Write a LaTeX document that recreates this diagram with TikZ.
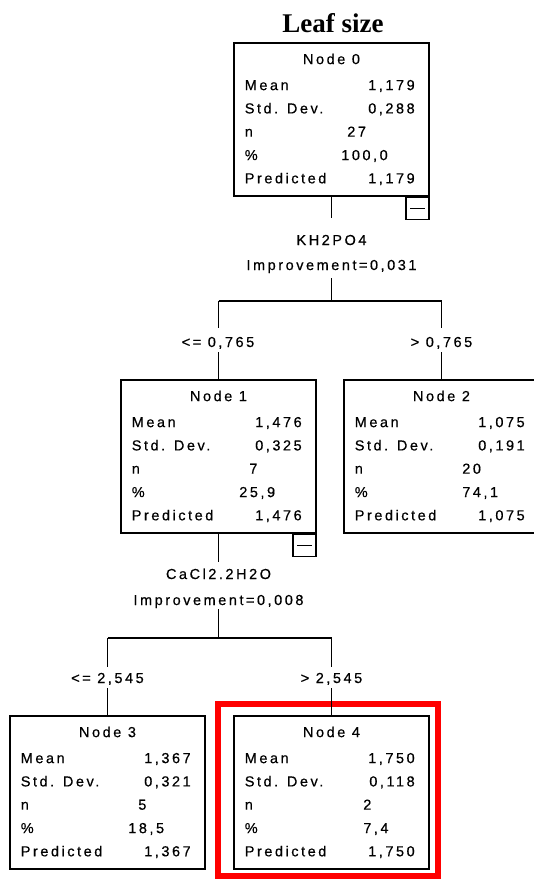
\documentclass[tikz,border=0pt]{standalone}
\usepackage{fontspec}
\setmainfont{Liberation Serif}
\newfontfamily\pixfont[LetterSpace=17.5,FakeBold=0.5]{Liberation Sans}
\usetikzlibrary{calc}
\newcommand\statbox[5]{%
  \node[lab,anchor=base] (#1t) at ($(#1.north)+(0,22)$) {#2};
  \node[lab,anchor=base west] (#1l1) at ($(#1.north west)+(11.5,48)$) {Mean};
  \node[lab,anchor=base west] (#1l2) at ($(#1.north west)+(11.5,71.3)$) {Std. Dev.};
  \node[lab,anchor=base west] (#1l3) at ($(#1.north west)+(11.5,94.6)$) {n};
  \node[lab,anchor=base west] (#1l4) at ($(#1.north west)+(11.5,118)$) {\%};
  \node[lab,anchor=base west] (#1l5) at ($(#1.north west)+(11.5,141.2)$) {Predicted};
  \node[lab,anchor=base east] (#1v1) at ($(#1.north east)+(-15,48)$) {#3};
  \node[lab,anchor=base east] (#1v2) at ($(#1.north east)+(-15,71.3)$) {#4};
  \node[lab,anchor=base east] (#1v5) at ($(#1.north east)+(-15,141.2)$) {#5};
}
\newcommand\statnp[5]{%
  \node[lab,anchor=base west] (#1v3) at ($(#1.north west)+(#2,94.6)$) {#3};
  \node[lab,anchor=base west] (#1v4) at ($(#1.north west)+(#4,118)$) {#5};
}
\begin{document}
\begin{tikzpicture}[x=1pt,y=-1pt,
  lab/.style={font=\pixfont\fontsize{14.5}{16}\selectfont, inner sep=0pt},
  box/.style={draw, line width=1.8pt, minimum width=195pt, minimum height=153pt, inner sep=0pt},
  minusbox/.style={draw, line width=1.5pt, minimum width=23pt, minimum height=22pt, inner sep=0pt, anchor=north east},
  conn/.style={line width=1.8pt},
  hl/.style={draw={rgb,255:red,255;green,0;blue,0}, line width=6pt, inner sep=0pt, minimum width=220pt, minimum height=172pt}]
\useasboundingbox[fill=white] (0,0) rectangle (534,879);

% title
\node[font=\bfseries\fontsize{27}{30}\selectfont, inner sep=0pt, anchor=base] (title) at (333,32) {Leaf size};

% highlight
\node[hl] (sel) at (328,789.5) {};

% boxes
\node[box] (n0) at (331.5,119.5) {};
\node[box] (n1) at (218.5,456.5) {};
\node[box] (n2) at (441.5,456.5) {};
\node[box] (n3) at (107.5,792.5) {};
\node[box] (n4) at (331.5,792.5) {};

\statbox{n0}{Node 0}{1,179}{0,288}{1,179}
\statnp{n0}{114}{27}{108}{100,0}
\statbox{n1}{Node 1}{1,476}{0,325}{1,476}
\statnp{n1}{129}{7}{119}{25,9}
\statbox{n2}{Node 2}{1,075}{0,191}{1,075}
\statnp{n2}{119}{20}{119}{74,1}
\statbox{n3}{Node 3}{1,367}{0,321}{1,367}
\statnp{n3}{129}{5}{119}{18,5}
\statbox{n4}{Node 4}{1,750}{0,118}{1,750}
\statnp{n4}{130}{2}{130}{7,4}

% collapse boxes
\node[minusbox] (m0) at (n0.south east) {};
\draw[line width=1.3pt] ($(m0.west)+(5,0)$) -- ($(m0.east)+(-5,0)$);
\node[minusbox] (m1) at (n1.south east) {};
\draw[line width=1.3pt] ($(m1.west)+(5,0)$) -- ($(m1.east)+(-5,0)$);

% split 0
\node[lab,anchor=base] (s0a) at (331.5,245) {KH2PO4};
\node[lab,anchor=base] (s0b) at (331.5,270) {Improvement=0,031};
\coordinate (t0) at (331.5,218);
\coordinate (u0) at (331.5,278);
\coordinate (j0) at (331.5,301);
\draw[conn] (n0.south) -- (t0);
\draw[conn] (u0) -- (j0);
\draw[conn] (n1.north |- j0) -- (n2.north |- j0);
\node[lab,anchor=base] (e1) at (218,347) {<= 0,765};
\node[lab,anchor=base] (e2) at (441.5,347) {> 0,765};
\draw[conn] (n1.north |- j0) -- (n1.north |- 0,328);
\draw[conn] (n1.north |- 0,352) -- (n1.north);
\draw[conn] (n2.north |- j0) -- (n2.north |- 0,328);
\draw[conn] (n2.north |- 0,352) -- (n2.north);

% split 1
\node[lab,anchor=base] (s1a) at (218.5,579) {CaCl2.2H2O};
\node[lab,anchor=base] (s1b) at (218.5,605) {Improvement=0,008};
\coordinate (t1) at (218.5,562);
\coordinate (u1) at (218.5,609);
\coordinate (j1) at (218.5,638);
\draw[conn] (n1.south) -- (t1);
\draw[conn] (u1) -- (j1);
\draw[conn] (n3.north |- j1) -- (n4.north |- j1);
\node[lab,anchor=base] (e3) at (107.5,683) {<= 2,545};
\node[lab,anchor=base] (e4) at (331.5,683) {> 2,545};
\draw[conn] (n3.north |- j1) -- (n3.north |- 0,667);
\draw[conn] (n3.north |- 0,688) -- (n3.north);
\draw[conn] (n4.north |- j1) -- (n4.north |- 0,667);
\draw[conn] (n4.north |- 0,688) -- (n4.north);
\end{tikzpicture}
\end{document}
